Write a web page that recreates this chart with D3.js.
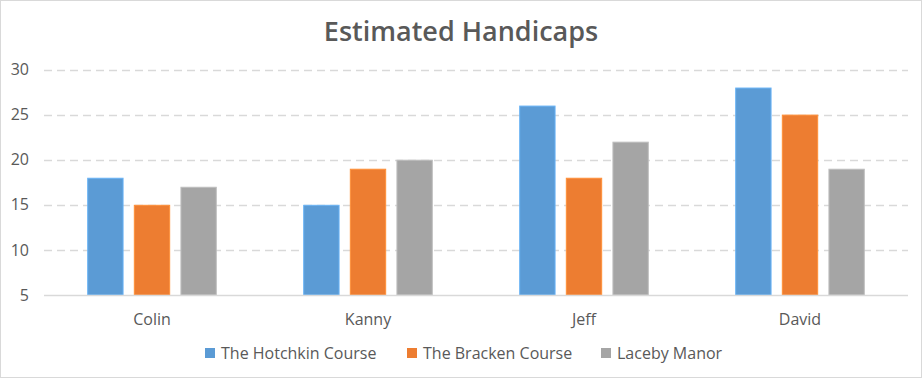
<!DOCTYPE html>
<html>
<head>
<meta charset="utf-8">
<script src="https://cdn.jsdelivr.net/npm/d3@7.9.0/dist/d3.min.js"></script>
<style>
  body { margin: 0; background: #fff; }
  svg { display: block; font-family: "Open Sans", "Noto Sans", sans-serif; }
</style>
</head>
<body>
<svg id="chart" width="922" height="378"></svg>
<script>
const players = ['Colin', 'Kanny', 'Jeff', 'David'];
const courses = ['The Hotchkin Course', 'The Bracken Course', 'Laceby Manor'];
const hotchkin = [18, 15, 26, 28];
const bracken = [15, 19, 18, 25];
const laceby = [17, 20, 22, 19];
const yTicks = [5, 10, 15, 20, 25, 30];
const colors = ['#5B9BD5', '#ED7D31', '#A5A5A5'];

const seriesValues = [hotchkin, bracken, laceby];
const W = 922, H = 378;
const margin = { top: 69.5, right: 14, bottom: 83, left: 44 };

const svg = d3.select('#chart');

// outer chart border
svg.append('rect')
  .attr('x', 0.5).attr('y', 0.5)
  .attr('width', W - 1).attr('height', H - 1)
  .attr('fill', '#fff').attr('stroke', '#D9D9D9');

const x0 = d3.scaleBand()
  .domain(players)
  .range([margin.left, W - margin.right])
  .paddingInner(0.4).paddingOuter(0.2);

// three bars per group, with small gaps between them
const x1 = d3.scaleBand()
  .domain(courses)
  .range([0, x0.bandwidth()])
  .paddingInner(0.22);

const y = d3.scaleLinear()
  .domain([5, 30])
  .range([H - margin.bottom, margin.top]);

// gridlines
svg.append('g')
  .selectAll('line')
  .data(yTicks.filter(t => t > 5))
  .join('line')
  .attr('x1', margin.left).attr('x2', W - margin.right)
  .attr('y1', d => Math.round(y(d)) + 0.5).attr('y2', d => Math.round(y(d)) + 0.5)
  .attr('stroke', '#D9D9D9')
  .attr('stroke-width', 1.3)
  .attr('stroke-dasharray', '8,5');

// y labels
svg.append('g')
  .selectAll('text')
  .data(yTicks)
  .join('text')
  .attr('x', 29)
  .attr('y', d => y(d))
  .attr('dy', '0.35em')
  .attr('text-anchor', 'end')
  .attr('fill', '#595959')
  .attr('font-size', 16)
  .text(d => d);

// bars
const groups = svg.append('g')
  .selectAll('g')
  .data(players)
  .join('g')
  .attr('transform', d => `translate(${x0(d)},0)`);

groups.selectAll('rect')
  .data((p, i) => courses.map((c, k) => ({ course: c, value: seriesValues[k][i], k })))
  .join('rect')
  .attr('x', d => x1(d.course) + 0.5)
  .attr('y', d => y(d.value) + 0.5)
  .attr('width', x1.bandwidth() - 1)
  .attr('height', d => y(5) - y(d.value) - 0.5)
  .attr('fill', d => colors[d.k])
  .attr('stroke', d => d3.color(colors[d.k]).brighter(0.4))
  .attr('stroke-width', 1);

// baseline
svg.append('line')
  .attr('x1', margin.left).attr('x2', W - margin.right)
  .attr('y1', Math.round(y(5)) + 0.5).attr('y2', Math.round(y(5)) + 0.5)
  .attr('stroke', '#D9D9D9').attr('stroke-width', 1.3);

// category labels
svg.append('g')
  .selectAll('text')
  .data(players)
  .join('text')
  .attr('x', d => x0(d) + x0.bandwidth() / 2)
  .attr('y', 325)
  .attr('text-anchor', 'middle')
  .attr('fill', '#595959')
  .attr('font-size', 16)
  .text(d => d);

// title
svg.append('text')
  .attr('x', 461).attr('y', 41)
  .attr('text-anchor', 'middle')
  .attr('fill', '#595959')
  .attr('font-size', 27)
  .attr('font-weight', 600)
  .text('Estimated Handicaps');

// legend
const legendX = [205, 407, 601];
const legend = svg.append('g')
  .selectAll('g')
  .data(courses)
  .join('g')
  .attr('transform', (d, i) => `translate(${legendX[i]},348)`);

legend.append('rect')
  .attr('width', 10).attr('height', 10)
  .attr('fill', (d, i) => colors[i]);

legend.append('text')
  .attr('x', 16).attr('y', 11)
  .attr('fill', '#595959')
  .attr('font-size', 16)
  .text(d => d);
</script>
</body>
</html>
